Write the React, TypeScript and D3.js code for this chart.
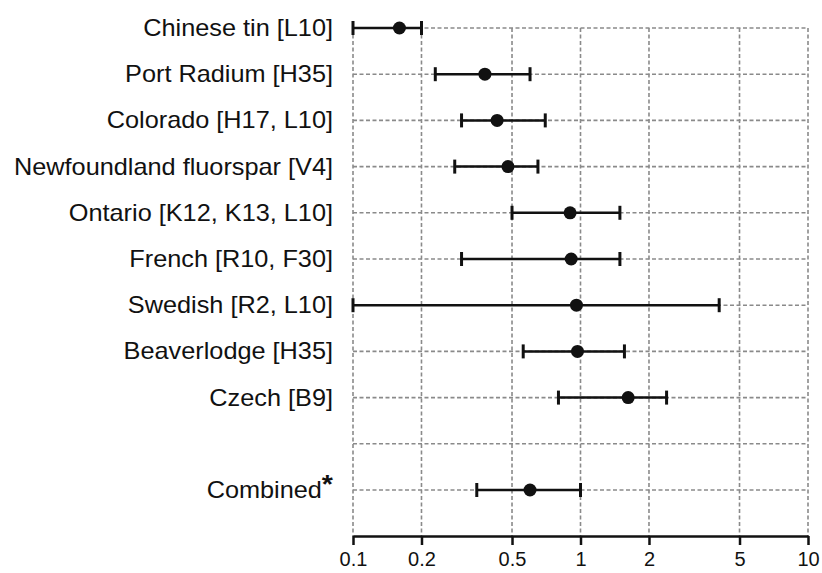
import React, { useRef, useEffect } from "react";
import * as d3 from "d3";

const labels = [
  "Chinese tin [L10]",
  "Port Radium [H35]",
  "Colorado [H17, L10]",
  "Newfoundland fluorspar [V4]",
  "Ontario [K12, K13, L10]",
  "French [R10, F30]",
  "Swedish [R2, L10]",
  "Beaverlodge [H35]",
  "Czech [B9]",
  "",
  "Combined",
];
const footnote = ["", "", "", "", "", "", "", "", "", "", "*"];
const estimates = [0.16, 0.38, 0.43, 0.48, 0.9, 0.91, 0.96, 0.97, 1.62, null, 0.6];
const lower = [0.1, 0.23, 0.3, 0.28, 0.5, 0.3, 0.1, 0.56, 0.8, null, 0.35];
const upper = [0.2, 0.6, 0.7, 0.65, 1.49, 1.49, 4.07, 1.56, 2.39, null, 1.0];
const ticks = [0.1, 0.2, 0.5, 1, 2, 5, 10];
const tickLabels = ["0.1", "0.2", "0.5", "1", "2", "5", "10"];

const W = 822;
const H = 573;

const App = () => {
  const svgRef = useRef(null);

  useEffect(() => {
    const svg = d3.select(svgRef.current);
    svg.selectAll("*").remove();

    const x = d3.scaleLog().domain([0.1, 10]).range([353, 808]);
    const rows = labels.map((_, i) => i);
    const y = d3.scalePoint().domain(rows).range([28, 490]);
    const axisY = 536;
    const font = "'Liberation Sans', Arial, sans-serif";

    const grid = svg.append("g")
      .attr("stroke", "#8a8a8a")
      .attr("stroke-width", 1.6)
      .attr("stroke-dasharray", "4,2.5");

    grid.selectAll("line.v")
      .data(ticks)
      .enter()
      .append("line")
      .attr("x1", d => x(d))
      .attr("x2", d => x(d))
      .attr("y1", y(0))
      .attr("y2", axisY);

    grid.selectAll("line.h")
      .data(rows)
      .enter()
      .append("line")
      .attr("x1", x(0.1))
      .attr("x2", x(10))
      .attr("y1", d => y(d))
      .attr("y2", d => y(d));

    // axis
    const axis = d3.axisBottom(x)
      .tickValues(ticks)
      .tickFormat((d, i) => tickLabels[i])
      .tickSize(9)
      .tickSizeOuter(0);
    const ax = svg.append("g")
      .attr("transform", `translate(0, ${axisY})`)
      .call(axis);
    ax.select(".domain").attr("stroke", "#111").attr("stroke-width", 2.5);
    ax.selectAll(".tick line").attr("stroke", "#111").attr("stroke-width", 2.5);
    ax.selectAll(".tick text")
      .attr("fill", "#111")
      .attr("font-family", font)
      .attr("font-size", 20)
      .attr("dy", 0)
      .attr("y", 30);

    const data = rows.filter(i => estimates[i] !== null);

    const bars = svg.append("g").attr("stroke", "#111").attr("stroke-width", 2.5);
    bars.selectAll("line.bar")
      .data(data)
      .enter()
      .append("line")
      .attr("x1", i => x(lower[i]))
      .attr("x2", i => x(upper[i]))
      .attr("y1", i => y(i))
      .attr("y2", i => y(i));
    bars.selectAll("line.lo")
      .data(data)
      .enter()
      .append("line")
      .attr("stroke-width", 3)
      .attr("x1", i => x(lower[i]))
      .attr("x2", i => x(lower[i]))
      .attr("y1", i => y(i) - 7)
      .attr("y2", i => y(i) + 7);
    bars.selectAll("line.hi")
      .data(data)
      .enter()
      .append("line")
      .attr("stroke-width", 3)
      .attr("x1", i => x(upper[i]))
      .attr("x2", i => x(upper[i]))
      .attr("y1", i => y(i) - 7)
      .attr("y2", i => y(i) + 7);

    svg.append("g")
      .selectAll("circle")
      .data(data)
      .enter()
      .append("circle")
      .attr("cx", i => x(estimates[i]))
      .attr("cy", i => y(i))
      .attr("r", 6.5)
      .attr("fill", "#111");

    const txt = svg.append("g")
      .selectAll("text")
      .data(rows)
      .enter()
      .append("text")
      .attr("transform", i => `translate(333, ${y(i) + 8}) scale(1.1, 1)`)
      .attr("text-anchor", "end")
      .attr("font-family", font)
      .attr("font-size", 23)
      .attr("fill", "#111");
    txt.append("tspan").text(i => labels[i]);
    txt.append("tspan")
      .attr("font-size", 26)
      .attr("font-weight", "bold")
      .attr("dy", -5)
      .text(i => footnote[i]);
  }, []);

  return (
    <svg
      ref={svgRef}
      width={W}
      height={H}
      style={{ position: "absolute", left: 0, top: 0, background: "#fff" }}
    ></svg>
  );
};

export default App;
